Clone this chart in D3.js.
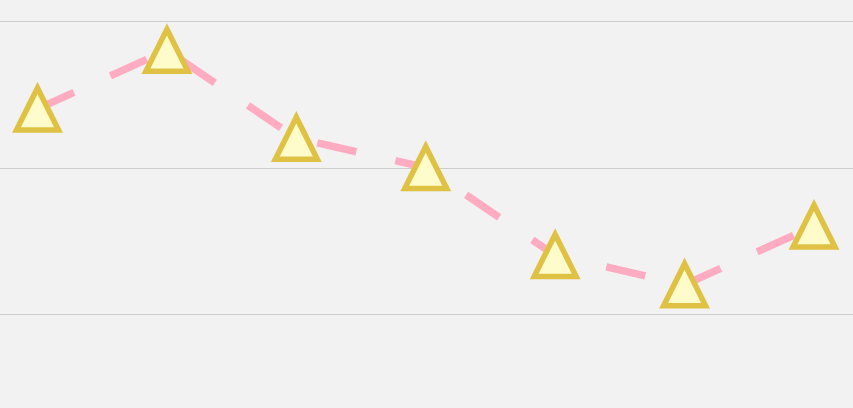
<!DOCTYPE html>
<meta charset="utf-8">
<style>
  html, body { margin: 0; padding: 0; background: #f2f2f2; }
  svg { display: block; }
</style>
<body>
<script src="https://cdn.jsdelivr.net/npm/d3@7"></script>
<script>
  var categories = ["A", "B", "C", "D", "E", "F", "G"];
  var values = [240, 280, 220, 200, 140, 120, 160];
  var gridTicks = [0, 100, 200, 300];

  var width = 853,
      height = 408;

  var x = d3.scalePoint()
    .domain(categories)
    .range([37.5, 814]);

  var y = d3.scaleLinear()
    .domain([0, 300])
    .range([460.5, 21]);

  var svg = d3.select("body").append("svg")
    .attr("width", width)
    .attr("height", height);

  svg.append("rect")
    .attr("width", width)
    .attr("height", height)
    .attr("fill", "#f2f2f2");

  // horizontal grid lines
  var grid = svg.append("g")
    .call(d3.axisLeft(y).tickValues(gridTicks).tickSize(-width).tickFormat(""));
  grid.select(".domain").remove();
  grid.selectAll(".tick line").attr("stroke", "#cccccc").attr("shape-rendering", "crispEdges");

  var pts = categories.map(function(c, i) { return { cat: c, val: values[i] }; });

  var line = d3.line()
    .x(function(d) { return x(d.cat); })
    .y(function(d) { return y(d.val); });

  svg.append("path")
    .datum(pts)
    .attr("d", line)
    .attr("fill", "none")
    .attr("stroke", "#ffabc1")
    .attr("stroke-width", 7.5)
    .attr("stroke-dasharray", "40,40");

  // triangle markers
  var tri = function(w, h) {
    return "M0," + (-h / 2) + "L" + (w / 2) + "," + (h / 2) + "L" + (-w / 2) + "," + (h / 2) + "Z";
  };

  svg.selectAll(".marker")
    .data(pts)
    .join("path")
    .attr("class", "marker")
    .attr("transform", function(d) { return "translate(" + x(d.cat) + "," + y(d.val) + ")"; })
    .attr("d", tri(42, 42))
    .attr("fill", "#fffccc")
    .attr("stroke", "#dfc244")
    .attr("stroke-width", 5.5);
</script>
</body>
